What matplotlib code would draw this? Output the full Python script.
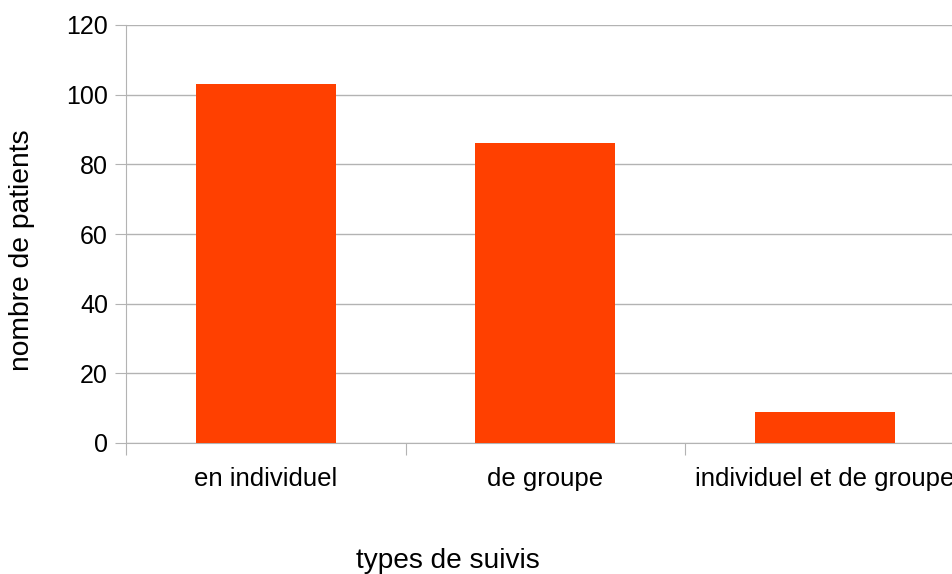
import matplotlib.pyplot as plt
import numpy as np

categories = ["en individuel", "de groupe", "individuel et de groupe"]
values = [103, 86, 9]
yticks = [0, 20, 40, 60, 80, 100, 120]

plt.rcParams['font.family'] = ['Liberation Sans', 'DejaVu Sans']

W, H = 953, 574
fig = plt.figure(figsize=(W / 100, H / 100), dpi=100)
# plot area runs past the right edge in the original
ax = fig.add_axes([126 / W, 1 - 443 / H, (964.5 - 126) / W, (443 - 25) / H])

x = np.arange(len(categories))
ax.bar(x, values, width=0.5, color='#ff4000', zorder=3)
ax.set_xlim(-0.5, len(categories) - 0.5)
ax.set_ylim(0, 120)
ax.set_yticks(yticks)
ax.yaxis.grid(True, color='#b3b3b3', linewidth=1, zorder=0)
ax.tick_params(axis='y', length=8, color='#b3b3b3', labelsize=18, pad=5)
ax.set_xticks(x - 0.5, minor=False)
ax.set_xticklabels([])
ax.set_xticks(x, minor=True)
ax.set_xticklabels(categories, minor=True)
ax.tick_params(axis='x', which='major', length=8.6, color='#b3b3b3')
ax.tick_params(axis='x', which='minor', length=0, labelsize=18.5, pad=17)

for s in ['top', 'right']:
    ax.spines[s].set_visible(False)
for s in ['left', 'bottom']:
    ax.spines[s].set_color('#b3b3b3')

fig.text(448 / W, 1 - 561 / H, "types de suivis", ha='center', va='center', fontsize=20.2)
fig.text(22 / W, 1 - 250 / H, "nombre de patients", ha='center', va='center',
         rotation=90, fontsize=20.3)

fig.savefig("out.png", dpi=100)
